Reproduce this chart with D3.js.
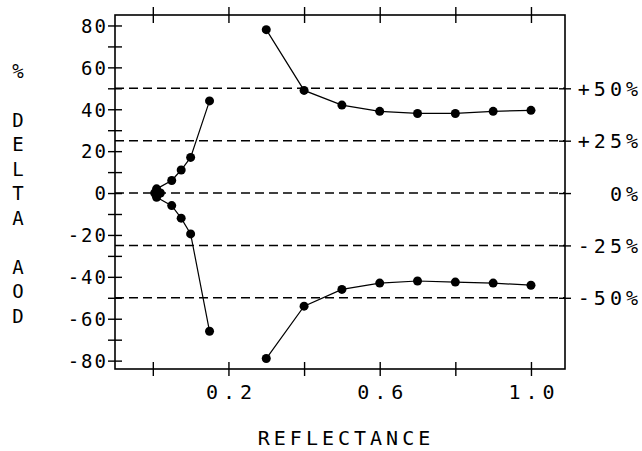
<!DOCTYPE html>
<html><head><meta charset="utf-8">
<script src="https://cdn.jsdelivr.net/npm/d3@7"></script>
<style>
body{margin:0;background:#fff}
svg text{font-family:"DejaVu Sans Mono","Liberation Mono",monospace;fill:#000}
</style>
</head><body><svg id="c" width="642" height="451"></svg>
<script>
// ---- data ----
const reflectanceLeft = [0.01, 0.05, 0.075, 0.1, 0.15];
const deltaLeftUpper  = [2, 6, 11, 17, 44];
const deltaLeftLower  = [-2, -6, -12, -19.5, -66];
const clusterX = [0.005, 0.02];
const clusterY = [0, 0];
const reflectanceRight = [0.3, 0.4, 0.5, 0.6, 0.7, 0.8, 0.9, 1.0];
const deltaRightUpper  = [78, 49, 42, 39, 38, 38, 39, 39.5];
const deltaRightLower  = [-79, -54, -46, -43, -42, -42.5, -43, -44];
const xTicks      = [0, 0.2, 0.4, 0.6, 0.8, 1.0];
const xTickLabels = ["", "0.2", "", "0.6", "", "1.0"];
const yTicks      = [-80,-70,-60,-50,-40,-30,-20,-10,0,10,20,30,40,50,60,70,80];
const yTickLabels = ["-80","","-60","","-40","","-20","","0","","20","","40","","60","","80"];
const refLevels = [50, 25, 0, -25, -50];
const refLabels = ["+50%", "+25%", "0%", "-25%", "-50%"];
const yTitleChars = ["%", "", "D", "E", "L", "T", "A", "", "A", "O", "D"];
const xTitle = "REFLECTANCE";

// ---- scales ----
const L = 115, R = 565, T = 15, B = 369;
const x = d3.scaleLinear().domain([-0.1, 1.09]).range([L, R]);
const y = d3.scaleLinear().domain([-84, 85]).range([B, T]);

const svg = d3.select("#c");

// dashed reference lines
svg.append("g").selectAll("line").data(refLevels).join("line")
  .attr("x1", L).attr("x2", R)
  .attr("y1", d => y(d)).attr("y2", d => y(d))
  .attr("stroke", "#000").attr("stroke-width", 1.5)
  .attr("stroke-dasharray", "9,5");

// frame
svg.append("rect").attr("x", L).attr("y", T).attr("width", R - L).attr("height", B - T)
  .attr("fill", "none").attr("stroke", "#000").attr("stroke-width", 1.6);

function styleAxis(g) {
  g.select(".domain").remove();
  g.selectAll(".tick line").attr("stroke", "#000").attr("stroke-width", 1.4);
}

// left axis
const gl = svg.append("g").attr("transform", `translate(${L},0)`)
  .call(d3.axisLeft(y).tickValues(yTicks).tickSize(7).tickPadding(2)
    .tickFormat((d, i) => yTickLabels[i]));
styleAxis(gl);
gl.selectAll(".tick line").attr("x1", 7);
gl.selectAll(".tick text").attr("font-size", 19).attr("letter-spacing", 2)
  .attr("dx", 2).attr("dy", "0.36em");

// bottom axis
const gb = svg.append("g").attr("transform", `translate(0,${B})`)
  .call(d3.axisBottom(x).tickValues(xTicks).tickSize(7).tickPadding(9)
    .tickFormat((d, i) => xTickLabels[i]));
styleAxis(gb);
gb.selectAll(".tick line").attr("y1", -7);
gb.selectAll(".tick text").attr("font-size", 20).attr("letter-spacing", 5)
  .attr("dx", 2.5).attr("dy", "0.72em");

// top axis (ticks only)
const gt = svg.append("g").attr("transform", `translate(0,${T})`)
  .call(d3.axisTop(x).tickValues(xTicks).tickSize(8).tickFormat(() => ""));
styleAxis(gt);
gt.selectAll(".tick line").attr("y1", 8);

// right axis
const gr = svg.append("g").attr("transform", `translate(${R},0)`)
  .call(d3.axisRight(y).tickValues(refLevels).tickSize(6).tickPadding(0)
    .tickFormat((d, i) => refLabels[i]));
styleAxis(gr);
gr.selectAll(".tick line").attr("x1", -6);
gr.selectAll(".tick text").attr("font-size", 20).attr("letter-spacing", 4)
  .attr("text-anchor", "end").attr("x", 77).attr("dy", "0.36em");

// series
const line = d3.line().x(d => x(d[0])).y(d => y(d[1]));
const series = [
  d3.zip(reflectanceLeft, deltaLeftUpper),
  d3.zip(reflectanceLeft, deltaLeftLower),
  d3.zip(reflectanceRight, deltaRightUpper),
  d3.zip(reflectanceRight, deltaRightLower)
];
svg.append("g").selectAll("path").data(series).join("path")
  .attr("d", line).attr("fill", "none").attr("stroke", "#000").attr("stroke-width", 1.2);
const pts = series.flat().concat(d3.zip(clusterX, clusterY));
svg.append("g").selectAll("circle").data(pts).join("circle")
  .attr("cx", d => x(d[0])).attr("cy", d => y(d[1])).attr("r", 4.5).attr("fill", "#000");

// titles
svg.append("text").attr("x", 344).attr("y", 445).attr("text-anchor", "middle")
  .attr("font-size", 20).attr("letter-spacing", 4).attr("dx", 2).text(xTitle);
svg.append("g").selectAll("text").data(yTitleChars).join("text")
  .attr("x", 18).attr("y", (d, i) => 71 + i * 24.5).attr("dy", "0.36em")
  .attr("text-anchor", "middle").attr("font-size", 19).text(d => d);
</script>
</body></html>
